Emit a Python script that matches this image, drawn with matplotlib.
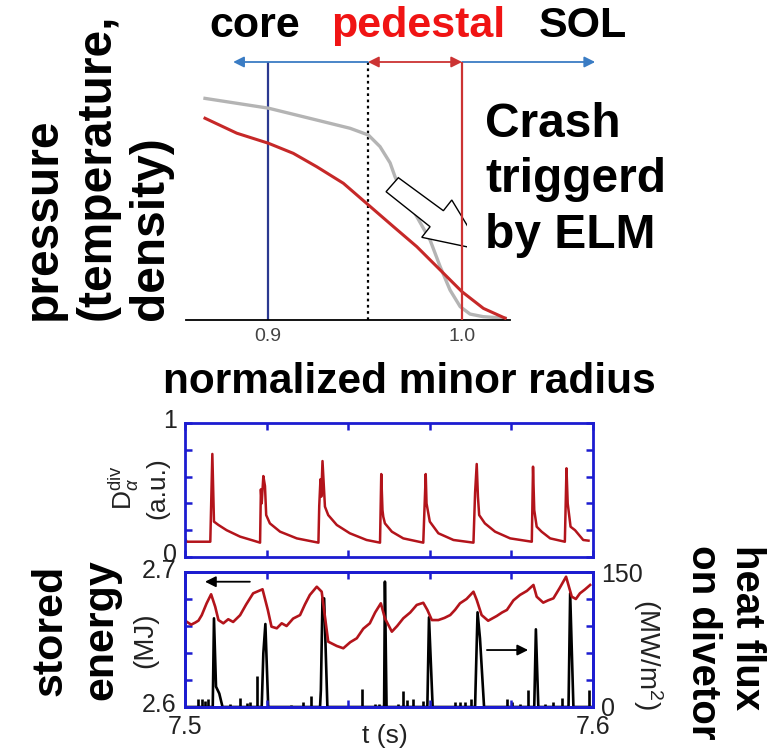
import matplotlib
matplotlib.use('Agg')
import matplotlib.pyplot as plt
import matplotlib.transforms as mtransforms
from matplotlib.patches import Polygon

plt.rcParams['font.family'] = ['Liberation Sans', 'DejaVu Sans']
plt.rcParams['mathtext.fontset'] = 'custom'
plt.rcParams['mathtext.rm'] = 'Liberation Sans'
plt.rcParams['mathtext.it'] = 'Liberation Sans:italic'

# --- profile across the edge (normalized minor radius) ---
rho_gray = [0.8675, 0.9002, 0.9251, 0.9423, 0.9517, 0.9577, 0.9629, 0.9655,
            0.9696, 0.9767, 0.9835, 0.9887, 0.9938, 0.9990, 1.0041, 1.0108, 1.0222]
prof_gray = [0.859, 0.821, 0.775, 0.743, 0.717, 0.672, 0.609, 0.554,
             0.492, 0.400, 0.310, 0.207, 0.116, 0.052, 0.023, 0.013, 0.007]
rho_red = [0.8675, 0.8839, 0.9002, 0.9130, 0.9251, 0.9388, 0.9517, 0.9646,
           0.9767, 0.9887, 0.9999, 1.0110, 1.0222]
prof_red = [0.782, 0.724, 0.685, 0.646, 0.594, 0.530, 0.446, 0.362,
            0.284, 0.194, 0.110, 0.045, 0.007]
rho_core = 0.9
rho_ped = 0.9515
rho_sep = 1.0

# --- D_alpha on divertor ---
da_t = [7.5000, 7.5004, 7.5062, 7.5067, 7.5071, 7.5082, 7.5102, 7.5135, 7.5168, 7.5184,
        7.5186, 7.5188, 7.5192, 7.5196, 7.5199, 7.5208, 7.5233, 7.5274, 7.5327,
        7.5329, 7.5332, 7.5334, 7.5337, 7.5343, 7.5351, 7.5372, 7.5404, 7.5445, 7.5478,
        7.5481, 7.5484, 7.5486, 7.5490, 7.5507, 7.5535, 7.5584,
        7.5590, 7.5592, 7.5600, 7.5621, 7.5658, 7.5707,
        7.5711, 7.5715, 7.5718, 7.5721, 7.5735, 7.5760, 7.5797, 7.5850,
        7.5853, 7.5856, 7.5862, 7.5874, 7.5895, 7.5931,
        7.5935, 7.5938, 7.5945, 7.5956, 7.5976, 7.5989]
da_val = [0.139, 0.114, 0.114, 0.769, 0.264, 0.239, 0.200, 0.152, 0.122, 0.107,
          0.505, 0.400, 0.604, 0.530, 0.313, 0.251, 0.189, 0.139, 0.107,
          0.381, 0.580, 0.450, 0.716, 0.376, 0.313, 0.239, 0.177, 0.127, 0.107,
          0.619, 0.350, 0.300, 0.251, 0.189, 0.139, 0.107,
          0.619, 0.400, 0.264, 0.177, 0.127, 0.107,
          0.480, 0.694, 0.450, 0.313, 0.251, 0.189, 0.139, 0.114,
          0.674, 0.350, 0.226, 0.189, 0.139, 0.114,
          0.662, 0.400, 0.226, 0.200, 0.127, 0.122]

# --- stored energy (MJ) ---
w_t = [7.5004, 7.5015, 7.5025, 7.5033, 7.5041, 7.5053, 7.5064, 7.5074, 7.5082, 7.5094,
       7.5106, 7.5118, 7.5135, 7.5150, 7.5167, 7.5190, 7.5203, 7.5212, 7.5225, 7.5237,
       7.5249, 7.5265, 7.5282, 7.5294, 7.5306, 7.5323, 7.5335, 7.5343, 7.5351, 7.5372,
       7.5388, 7.5405, 7.5421, 7.5437, 7.5453, 7.5466, 7.5480, 7.5490, 7.5507, 7.5520,
       7.5535, 7.5552, 7.5568, 7.5584, 7.5594, 7.5605, 7.5621, 7.5636, 7.5650, 7.5662,
       7.5674, 7.5690, 7.5707, 7.5715, 7.5727, 7.5743, 7.5764, 7.5777, 7.5789, 7.5805,
       7.5821, 7.5838, 7.5854, 7.5862, 7.5878, 7.5890, 7.5903, 7.5918, 7.5934, 7.5948,
       7.5958, 7.5968, 7.5980, 7.5993]
w_val = [2.6632, 2.6610, 2.6625, 2.6640, 2.6680, 2.6768, 2.6835, 2.6743, 2.6644, 2.6620,
         2.6650, 2.6630, 2.6680, 2.6760, 2.6842, 2.6872, 2.6719, 2.6595, 2.6583, 2.6620,
         2.6600, 2.6655, 2.6681, 2.6760, 2.6830, 2.6891, 2.6854, 2.6669, 2.6484, 2.6452,
         2.6435, 2.6480, 2.6509, 2.6580, 2.6620, 2.6700, 2.6768, 2.6657, 2.6558, 2.6600,
         2.6657, 2.6700, 2.6756, 2.6772, 2.6719, 2.6644, 2.6644, 2.6660, 2.6681, 2.6720,
         2.6768, 2.6800, 2.6854, 2.6793, 2.6681, 2.6639, 2.6674, 2.6700, 2.6719, 2.6790,
         2.6830, 2.6860, 2.6904, 2.6817, 2.6773, 2.6790, 2.6805, 2.6880, 2.6965, 2.6817,
         2.6800, 2.6842, 2.6870, 2.6904]

# --- heat flux on divertor (MW/m^2): ELM bursts ---
q_t = [7.5000, 7.5068, 7.5071, 7.5076, 7.5084, 7.5092,
       7.5188, 7.5192, 7.5197, 7.5204,
       7.5331, 7.5333, 7.5337, 7.5341, 7.5349,
       7.5488, 7.5490, 7.5494,
       7.5594, 7.5598, 7.5607,
       7.5711, 7.5712, 7.5717, 7.5723, 7.5733,
       7.5856, 7.5860, 7.5866,
       7.5940, 7.5944, 7.5952,
       7.6000]
q_val = [0, 0, 98.5, 22.6, 15.0, 0,
         0, 59.6, 92.2, 0,
         0, 18.5, 120.7, 120.7, 0,
         0, 139.3, 0,
         0, 99.6, 0,
         0, 18.5, 105.2, 76.3, 0,
         0, 86.3, 0,
         0, 126.3, 0,
         0]
# small inter-ELM bursts
qs_t = [7.5033, 7.5041, 7.5049, 7.5057, 7.5110, 7.5135, 7.5151, 7.5159, 7.5177,
        7.5261, 7.5290, 7.5308, 7.5388, 7.5433, 7.5466, 7.5476, 7.5523, 7.5535,
        7.5543, 7.5560, 7.5583, 7.5662, 7.5674, 7.5686, 7.5702, 7.5788, 7.5801,
        7.5821, 7.5840, 7.5882, 7.5903, 7.5923, 7.5989]
qs_val = [8.5, 8.5, 6.7, 8.5, 3.0, 10.4, 4.4, 5.6, 34.4,
          1.9, 5.6, 11.9, 1.0, 20.4, 3.7, 3.7, 3.0, 17.8,
          7.4, 9.3, 6.7, 5.6, 5.6, 5.6, 8.5, 9.3, 5.6,
          3.7, 18.5, 3.7, 5.6, 10.4, 18.5]

BLUE_FRAME = '#1c1cd0'
DARK_RED = '#b3141b'
LINE_RED = '#cc3333'
ARROW_BLUE = '#3a7cc4'

fig = plt.figure(figsize=(7.8, 7.5), dpi=100)
W, H = 780.0, 750.0


def fx(px):
    return px / W


def fy(py):
    return 1 - py / H


# ================= top: edge profile =================
ax = fig.add_axes([fx(186), fy(320), (510 - 186) / W, (320 - 62) / H])
ax.set_xlim(0.8577, 1.0247)
ax.set_ylim(0, 1)
for s in ['left', 'right', 'top']:
    ax.spines[s].set_visible(False)
ax.spines['bottom'].set_linewidth(1.3)
ax.set_xticks([0.9, 1.0])
ax.set_xticklabels(['0.9', '1.0'])
ax.set_yticks([])
ax.tick_params(axis='x', length=0, pad=6, labelsize=14, labelcolor='#444444')

ax.plot(rho_gray, prof_gray, color='#b4b4b4', lw=2.4, zorder=2)
ax.plot(rho_red, prof_red, color='#c62828', lw=2.2, zorder=3)

ax.plot([rho_core, rho_core], [0, 1], color='#2b3990', lw=1.6, zorder=1)
ax.plot([rho_sep, rho_sep], [0, 1], color=LINE_RED, lw=1.6, zorder=4.5)
ax.plot([rho_ped, rho_ped], [0, 1], color='black', lw=1.6, ls=(0, (1.2, 1.6)), zorder=1)

# block arrow showing the crash
crash = Polygon([(0.96716, 0.5516), (0.99036, 0.4236), (0.99469, 0.4651),
                 (1.01031, 0.2713), (0.97923, 0.3205), (0.98351, 0.3616),
                 (0.96082, 0.4973)], closed=True, facecolor='white',
                edgecolor='black', lw=1.0, zorder=4, clip_on=False)
ax.add_patch(crash)

# region arrows
arr_kw = dict(shrinkA=0, shrinkB=0, lw=1.3, mutation_scale=16)
ax.annotate('', xy=(0.882, 1), xytext=(rho_ped, 1), annotation_clip=False,
            arrowprops=dict(arrowstyle='-|>', color=ARROW_BLUE, **arr_kw))
ax.annotate('', xy=(1.0686, 1), xytext=(rho_sep, 1), annotation_clip=False,
            arrowprops=dict(arrowstyle='-|>', color=ARROW_BLUE, **arr_kw))
ax.annotate('', xy=(rho_sep, 1), xytext=(rho_ped, 1), annotation_clip=False,
            arrowprops=dict(arrowstyle='<|-|>', color=LINE_RED, **arr_kw))

fig.text(fx(255), fy(37), 'core', ha='center', va='baseline', fontsize=31, weight='bold')
fig.text(fx(418), fy(37), 'pedestal', ha='center', va='baseline', fontsize=31,
         weight='bold', color='#f01414')
fig.text(fx(583), fy(37), 'SOL', ha='center', va='baseline', fontsize=31, weight='bold')
fig.text(fx(97), fy(320), 'pressure\n(temperature,\ndensity)', rotation=90,
         ha='center', va='bottom', multialignment='left', fontsize=34.5, weight='bold',
         linespacing=1.25)
fig.text(fx(409), fy(393), 'normalized minor radius', ha='center', va='baseline',
         fontsize=30.5, weight='bold')
fig.text(fx(485), fy(102), 'Crash\ntriggerd\nby ELM', ha='left', va='top',
         multialignment='left', fontsize=34.5, weight='bold', zorder=5, linespacing=1.3,
         bbox=dict(boxstyle='square,pad=0.38', fc='white', ec='none'))

# ================= bottom: time traces =================
t_ticks = [7.50, 7.52, 7.54, 7.56, 7.58, 7.60]


def frame(a):
    for s in a.spines.values():
        s.set_color(BLUE_FRAME)
        s.set_linewidth(2)
    a.tick_params(which='both', direction='in', length=5, width=1.8, color=BLUE_FRAME,
                  labelsize=18, pad=6, labelcolor='#222222')


def lift_ylabels(a, px):
    shift = mtransforms.ScaledTranslation(0, px / 100.0, fig.dpi_scale_trans)
    for lab in a.get_yticklabels():
        lab.set_transform(lab.get_transform() + shift)


ax_da = fig.add_axes([fx(185), fy(557), 408 / W, 134 / H])
ax_da.plot(da_t, da_val, color=DARK_RED, lw=1.8)
ax_da.set_xlim(7.5, 7.6)
ax_da.set_ylim(0, 1)
ax_da.set_xticks(t_ticks)
ax_da.set_xticklabels([])
ax_da.set_yticks([0, 0.2, 0.4, 0.6, 0.8, 1.0])
ax_da.set_yticklabels(['0', '', '', '', '', '1'])
frame(ax_da)
ax_da.tick_params(top=True, right=True)
lift_ylabels(ax_da, 5)

ax_w = fig.add_axes([fx(185), fy(707), 408 / W, 135 / H])
ax_q = ax_w.twinx()
ax_w.set_zorder(ax_q.get_zorder() + 1)
ax_w.patch.set_visible(False)

ax_q.plot(q_t, q_val, color='black', lw=1.9)
ax_q.vlines(qs_t, 0, qs_val, color='black', lw=1.9)
ax_q.set_ylim(0, 150)
ax_q.set_yticks([0, 30, 60, 90, 120, 150])
ax_q.set_yticklabels(['0', '', '', '', '', '150'])

ax_w.plot(w_t, w_val, color=DARK_RED, lw=1.9)
ax_w.set_xlim(7.5, 7.6)
ax_w.set_ylim(2.6, 2.7)
ax_w.set_yticks([2.6, 2.62, 2.64, 2.66, 2.68, 2.7])
ax_w.set_yticklabels(['2.6', '', '', '', '', '2.7'])
ax_w.set_xticks(t_ticks)
ax_w.set_xticklabels(['7.5', '', '', '', '', '7.6'])
frame(ax_w)
frame(ax_q)
ax_w.tick_params(top=True, right=False)
ax_q.tick_params(left=False)
lift_ylabels(ax_w, 4)

ax_w.annotate('', xy=(7.5049, 2.6928), xytext=(7.5159, 2.6928),
              arrowprops=dict(arrowstyle='-|>', color='black', lw=1.3,
                              mutation_scale=16, shrinkA=0, shrinkB=0))
ax_q.annotate('', xy=(7.5841, 63.3), xytext=(7.5740, 63.3),
              arrowprops=dict(arrowstyle='-|>', color='black', lw=1.3,
                              mutation_scale=16, shrinkA=0, shrinkB=0))

fig.text(fx(385), fy(743), 't (s)', ha='center', va='baseline', fontsize=19, color='#222222')
fig.text(fx(138), fy(488), '$\\mathrm{D}_{\\alpha}^{\\mathrm{div}}$\n(a.u.)', rotation=90,
         ha='center', va='center', multialignment='center', fontsize=19, color='#222222')
fig.text(fx(145), fy(640), '(MJ)', rotation=90, ha='center', va='center',
         fontsize=20, color='#222222')
fig.text(fx(648), fy(654), '(MW/m$^2$)', rotation=270, ha='center', va='center',
         fontsize=20, color='#222222')

fig.text(fx(76), fy(630), 'stored\nenergy', rotation=90, ha='center', va='center',
         multialignment='center', fontsize=31, weight='bold', linespacing=1.35)
fig.text(fx(725), fy(545), 'heat flux\non divetor', rotation=270, ha='center', va='top',
         multialignment='left', fontsize=29, weight='bold')

fig.savefig('out.png', dpi=100)
